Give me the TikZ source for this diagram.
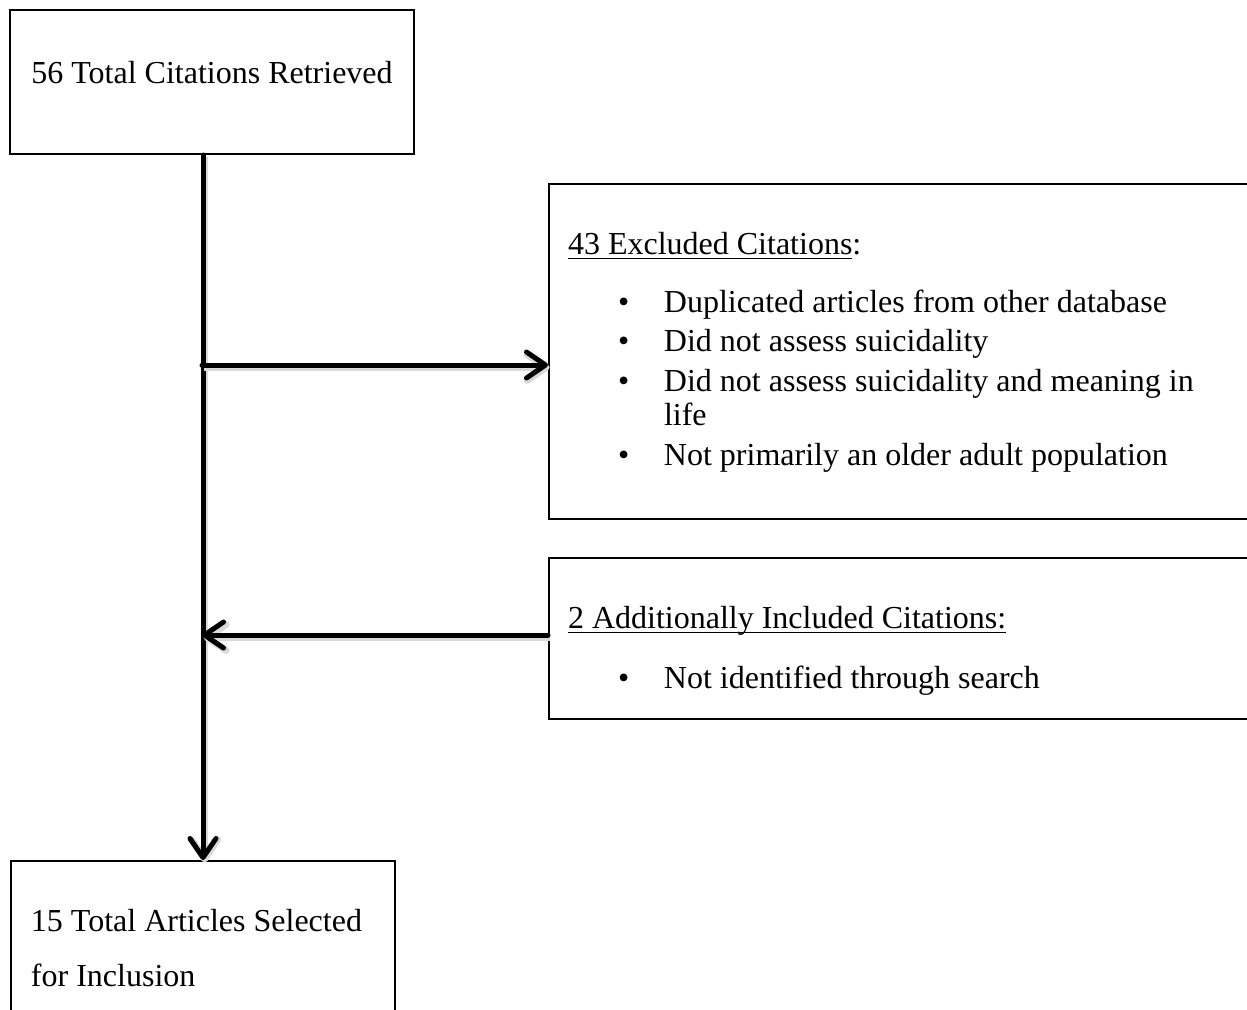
\documentclass[tikz,border=0pt]{standalone}
\usepackage{fontspec}
\setmainfont{Liberation Serif}
\usetikzlibrary{arrows.meta,positioning}
\newcommand{\ulhead}[1]{\setbox0=\hbox{#1}\rlap{\rule[-2.6pt]{\wd0}{0.7pt}}\box0}
\newcommand{\bitem}[1]{\hspace*{25pt}\makebox[23pt][l]{\textbullet}#1}

\begin{document}
\begin{tikzpicture}[x=0.5pt,y=-0.5pt,
  box/.style={draw,line width=1pt,inner ysep=0pt,align=left,font=\fontsize{16}{20}\selectfont,
    execute at begin node={\spaceskip=0pt\xspaceskip=0pt}},
  flow/.style={line width=2.5pt,line cap=round,-{Straight Barb[length=9.5pt,width=13pt,round]},
    preaction={draw=black!15,line width=3.5pt,transform canvas={xshift=0.8pt,yshift=-1.2pt}}}]
\path[use as bounding box,fill=white] (0,0) rectangle (1247,1009);
\clip (0,0) rectangle (1247,1009);
\node[box,anchor=north west,minimum width=202pt,inner xsep=0pt,text height=36.5pt,text depth=35.5pt] (cit) at (9,9) {56 Total Citations Retrieved};
\node[box,anchor=north west,inner xsep=10pt,text width=172pt,text height=35pt,text depth=100pt,font=\fontsize{16}{27.5}\selectfont] (sel) at (10,860) {15 Total Articles Selected\\for Inclusion};
\node[box,anchor=north west,inner xsep=9.5pt,text width=400pt,text height=35pt,text depth=132.5pt] (exc) at (548,183) {\ulhead{43 Excluded Citations}:\\[9pt]
  \bitem{Duplicated articles from other database}\\[-0.5pt]
  \bitem{Did not assess suicidality}\\
  \bitem{Did not assess suicidality and meaning in}\\[-3pt]
  \hspace*{48pt}life\\
  \bitem{Not primarily an older adult population}};
\node[box,anchor=north west,inner xsep=9.5pt,text width=400pt,text height=35pt,text depth=45.5pt] (inc) at (548,557) {\ulhead{2 Additionally Included Citations:}\\[10pt]
  \bitem{Not identified through search}};
% trunk and side branches
\coordinate (split) at (202,365);
\coordinate (merge) at (202,635);
\draw[flow] (cit.south -| sel.north) -- (sel.north);
\draw[flow] (split) -- (split -| exc.west);
\draw[flow] (inc.west |- merge) -- (merge);
\end{tikzpicture}
\end{document}
